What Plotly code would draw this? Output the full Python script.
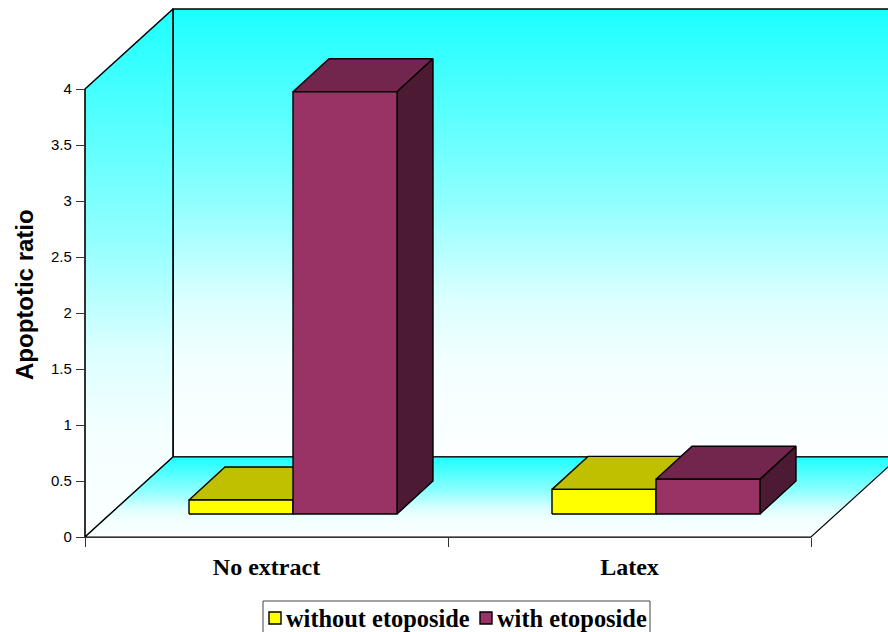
import plotly.graph_objects as go

# ---- data ----
categories = ["No extract", "Latex"]
without_etoposide = [0.125, 0.22]
with_etoposide = [3.77, 0.31]
y_ticks = [0, 0.5, 1, 1.5, 2, 2.5, 3, 3.5, 4]
y_tick_labels = ["0", "0.5", "1", "1.5", "2", "2.5", "3", "3.5", "4"]
series_names = ["without etoposide", "with etoposide"]

# ---- geometry (page size and oblique projection) ----
W, H = 888, 632
PX0, PX1, PY0, PY4 = 85, 811, 537, 89      # front plane of the chart in page px
UX = (PX1 - PX0) / 2                        # px per category
UY = (PY0 - PY4) / 4                        # px per y unit
WALL_DX, WALL_DY = 88 / UX, 80 / UY         # depth of the box
SHIFT_DX, SHIFT_DY = 26.5 / UX, 23 / UY     # front of the bars within the box
BAR_DX, BAR_DY = 36 / UX, 33 / UY           # depth of a bar
BAR_W = 104 / UX
YMAX = 4
XL, XR = -0.5, 1.5

FONT_SANS = "Liberation Sans"
FONT_SERIF = "Liberation Serif"
WALL_SCALE = [[0, "#fcffff"], [0.2, "#f4ffff"], [0.35, "#dcffff"], [0.57, "#90ffff"], [1, "#1cffff"]]
YEL = ("#ffff00", "#c0c000", "#808000")
MAR = ("#993366", "#73264d", "#4d1a33")

fig = go.Figure()


def poly(xs, ys, fill=None, grad=None, lw=1.4):
    kw = dict(x=list(xs) + [xs[0]], y=list(ys) + [ys[0]], mode="lines", fill="toself",
              line=dict(color="#000000", width=lw), hoverinfo="skip", showlegend=False,
              xaxis="x", yaxis="y")
    if grad:
        kw["fillgradient"] = dict(type="vertical", start=grad[0], stop=grad[1],
                                  colorscale=WALL_SCALE)
    else:
        kw["fillcolor"] = fill
    fig.add_trace(go.Scatter(**kw))


# back wall
poly([XL + WALL_DX, XR + WALL_DX, XR + WALL_DX, XL + WALL_DX],
     [WALL_DY, WALL_DY, YMAX + WALL_DY, YMAX + WALL_DY],
     grad=(WALL_DY, YMAX + WALL_DY), lw=1.6)
# left wall
poly([XL, XL + WALL_DX, XL + WALL_DX, XL],
     [0, WALL_DY, YMAX + WALL_DY, YMAX],
     grad=(0, YMAX + WALL_DY), lw=1.6)
# floor
poly([XL, XR, XR + WALL_DX, XL + WALL_DX],
     [0, 0, WALL_DY, WALL_DY],
     grad=(0, WALL_DY), lw=1.2)


def bar3d(left, v, cols):
    x0 = left + SHIFT_DX
    x1 = x0 + BAR_W
    b = SHIFT_DY
    t = b + v
    # top, side, front
    poly([x0, x1, x1 + BAR_DX, x0 + BAR_DX], [t, t, t + BAR_DY, t + BAR_DY], fill=cols[1])
    poly([x1, x1 + BAR_DX, x1 + BAR_DX, x1], [b, b + BAR_DY, t + BAR_DY, t], fill=cols[2])
    poly([x0, x1, x1, x0], [b, b, t, t], fill=cols[0])


for i in range(len(categories)):
    bar3d(i - BAR_W, without_etoposide[i], YEL)
    bar3d(i, with_etoposide[i], MAR)


def px_x(p):
    return XL + (p - PX0) / UX


def px_y(p):
    return (PY0 - p) / UY


# legend swatches
LEG_Y = 618
for name, col, px in zip(series_names, (YEL[0], MAR[0]), (275, 486)):
    fig.add_trace(go.Scatter(x=[px_x(px)], y=[px_y(LEG_Y)], name=name, mode="markers",
                             marker=dict(symbol="square", size=12, color=col,
                                         line=dict(color="#000000", width=1.4)),
                             hoverinfo="skip", showlegend=False, xaxis="x", yaxis="y"))

# trace that carries the category / value axes
fig.add_trace(go.Scatter(x=categories, y=without_etoposide, mode="markers",
                         marker=dict(opacity=0), hoverinfo="skip", showlegend=False,
                         xaxis="x2", yaxis="y2"))

LEG_FONT = dict(family=FONT_SERIF, size=24.4, color="#000000", weight="bold")
annotations = [dict(text="<b>Apoptotic ratio</b>", xref="paper", yref="paper",
                    x=24 / W, y=(H - 295) / H, xanchor="center", yanchor="middle",
                    textangle=-90, showarrow=False,
                    font=dict(family=FONT_SANS, size=24, color="#000000"))]
for name, px in zip(series_names, (286, 497)):
    annotations.append(dict(text=name, xref="paper", yref="paper", x=px / W,
                            y=(H - LEG_Y) / H, xanchor="left", yanchor="middle",
                            xshift=-1, showarrow=False, font=LEG_FONT, borderpad=0))

fig.update_layout(
    width=W, height=H, margin=dict(l=0, r=0, t=0, b=0, autoexpand=False),
    paper_bgcolor="#ffffff", plot_bgcolor="rgba(0,0,0,0)",
    font=dict(family=FONT_SANS, color="#000000"),
    xaxis=dict(domain=[0, 1], range=[px_x(0), px_x(W)], visible=False),
    yaxis=dict(domain=[0, 1], range=[px_y(H), px_y(0)], visible=False),
    xaxis2=dict(domain=[PX0 / W, PX1 / W], type="category", categoryorder="array",
                categoryarray=categories, range=[XL, XR], anchor="y2",
                tickson="boundaries", ticks="outside", ticklen=9, tickwidth=1,
                tickcolor="#333333", showline=True, linecolor="#333333", linewidth=1.4,
                showgrid=False, zeroline=False, ticklabelstandoff=8,
                tickfont=dict(family=FONT_SERIF, size=24, color="#000000", weight="bold")),
    yaxis2=dict(domain=[(H - PY0) / H, (H - PY4) / H], range=[0, YMAX], anchor="x2",
                tickmode="array", tickvals=y_ticks, ticktext=y_tick_labels,
                ticks="outside", ticklen=8, tickwidth=1, tickcolor="#333333",
                showline=True, linecolor="#333333", linewidth=1.4, showgrid=False,
                zeroline=False, ticklabelstandoff=1,
                tickfont=dict(family=FONT_SANS, size=15, color="#000000")),
    showlegend=False,
    shapes=[dict(type="rect", xref="paper", yref="paper", x0=263 / W, x1=650 / W,
                 y0=-0.02, y1=(H - 601) / H, line=dict(color="#444444", width=1),
                 fillcolor="rgba(255,255,255,0)")],
    annotations=annotations,
)

fig.write_html("out.html", post_script="document.body.style.margin='0';",
               config={"displayModeBar": False})
